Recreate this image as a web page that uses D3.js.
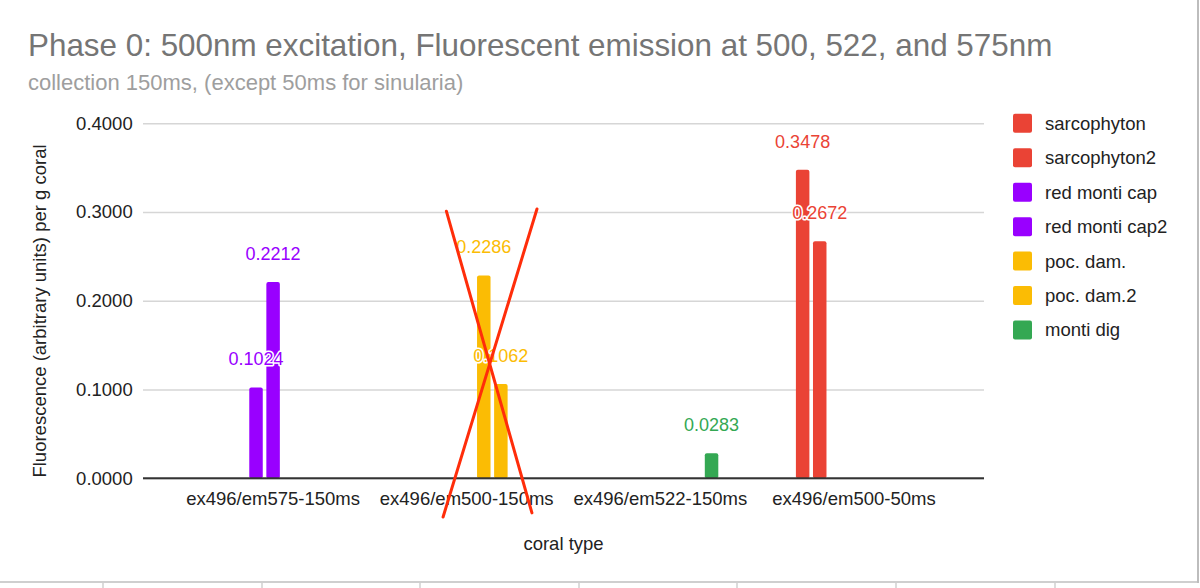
<!DOCTYPE html>
<html>
<head>
<meta charset="utf-8">
<script src="https://cdn.jsdelivr.net/npm/d3@7"></script>
<style>
  html, body { margin: 0; padding: 0; background: #fff; }
  svg { display: block; }
  text { font-family: "Liberation Sans", Arial, sans-serif; }
</style>
</head>
<body>
<svg id="chart" width="1200" height="588"></svg>
<script>
// ---- data ----
const categories = ["ex496/em575-150ms", "ex496/em500-150ms", "ex496/em522-150ms", "ex496/em500-50ms"];
const seriesNames = ["sarcophyton", "sarcophyton2", "red monti cap", "red monti cap2", "poc. dam.", "poc. dam.2", "monti dig"];
const seriesColors = ["#ea4335", "#ea4335", "#9900ff", "#9900ff", "#fbbc04", "#fbbc04", "#34a853"];
// values per series, one per category (null = no bar)
const sarcophyton   = [null, null, null, 0.3478];
const sarcophyton2  = [null, null, null, 0.2672];
const redMontiCap   = [0.1024, null, null, null];
const redMontiCap2  = [0.2212, null, null, null];
const pocDam        = [null, 0.2286, null, null];
const pocDam2       = [null, 0.1062, null, null];
const montiDig      = [null, null, 0.0283, null];
const seriesValues = [sarcophyton, sarcophyton2, redMontiCap, redMontiCap2, pocDam, pocDam2, montiDig];
const yTicks = [0, 0.1, 0.2, 0.3, 0.4];
const titleText = "Phase 0: 500nm excitation, Fluorescent emission at 500, 522, and 575nm";
const subtitleText = "collection 150ms, (except 50ms for sinularia)";
const xTitle = "coral type";
const yTitle = "Fluorescence (arbitrary units) per g coral";
// hand-drawn cross over the 2nd category: [category, offset in band steps, y value]
const crossLines = [
  [["ex496/em500-150ms", -0.105, 0.301], ["ex496/em500-150ms", 0.337, -0.039]],
  [["ex496/em500-150ms", 0.363, 0.3035], ["ex496/em500-150ms", -0.122, -0.0436]]
];

// ---- layout ----
const svg = d3.select("#chart");
const plotL = 143, plotR = 984, plotT = 123.3, plotB = 478.3;

const x0 = d3.scaleBand().domain(categories).range([plotL, plotR]).paddingInner(0).paddingOuter(0.172);
const groupW = 116;
const x1 = d3.scaleBand().domain(seriesNames).range([0, groupW]).paddingInner(0.21).paddingOuter(0);
const y = d3.scaleLinear().domain([0, 0.4]).range([plotB, plotT]);

// spreadsheet frame decoration
const frame = svg.append("g");
frame.append("line").attr("x1", 0).attr("x2", 1199).attr("y1", 582).attr("y2", 582)
  .attr("stroke", "#cfcfcf").attr("stroke-width", 2);
frame.append("line").attr("x1", 1198).attr("x2", 1198).attr("y1", 0).attr("y2", 583)
  .attr("stroke", "#bdbdbd").attr("stroke-width", 2);
[103, 262, 420, 579, 737, 896, 1055].forEach(xx => {
  frame.append("line").attr("x1", xx).attr("x2", xx).attr("y1", 583).attr("y2", 588)
    .attr("stroke", "#d0d0d0").attr("stroke-width", 1.5);
});

// title
svg.append("text").attr("x", 28).attr("y", 56).attr("font-size", 31.4).attr("fill", "#757575").text(titleText);
svg.append("text").attr("x", 28).attr("y", 89.5).attr("font-size", 22).attr("fill", "#9e9e9e").text(subtitleText);

// gridlines + y axis
const yAxis = d3.axisLeft(y).tickValues(yTicks).tickFormat(d3.format(".4f")).tickSize(-(plotR - plotL)).tickPadding(10);
const gy = svg.append("g").attr("transform", `translate(${plotL},0)`).call(yAxis);
gy.select(".domain").remove();
gy.selectAll(".tick line").attr("stroke", "#d6d6d6").attr("stroke-width", 1.5);
gy.selectAll(".tick text").attr("font-size", 18.5).attr("fill", "#222")
  .attr("font-family", "'Liberation Sans', Arial, sans-serif").attr("x", -10.3);

// bars
const barsG = svg.append("g");
seriesNames.forEach((s, si) => {
  categories.forEach((c, ci) => {
    const v = seriesValues[si][ci];
    if (v == null) return;
    const bx = x0(c) + x0.bandwidth() / 2 - groupW / 2 + x1(s);
    barsG.append("rect")
      .attr("x", bx).attr("y", y(v))
      .attr("width", x1.bandwidth()).attr("height", y(0) - y(v))
      .attr("rx", 2).attr("fill", seriesColors[si]);
  });
});

// x axis line
const xAxis = d3.axisBottom(x0).tickSize(0).tickPadding(14);
const gx = svg.append("g").attr("transform", `translate(0,${plotB})`).call(xAxis);
gx.select(".domain").attr("stroke", "#333").attr("stroke-width", 2)
  .attr("d", `M${plotL},0H${plotR}`);
gx.selectAll(".tick text").attr("font-size", 18.5).attr("fill", "#222")
  .attr("font-family", "'Liberation Sans', Arial, sans-serif");

// data labels
const labelsG = svg.append("g");
seriesNames.forEach((s, si) => {
  categories.forEach((c, ci) => {
    const v = seriesValues[si][ci];
    if (v == null) return;
    const cx = x0(c) + x0.bandwidth() / 2 - groupW / 2 + x1(s) + x1.bandwidth() / 2;
    labelsG.append("text")
      .attr("x", cx).attr("y", y(v) - 22)
      .attr("text-anchor", "middle")
      .attr("font-family", "Roboto, sans-serif").attr("font-size", 18)
      .attr("fill", seriesColors[si])
      .attr("stroke", "#fff").attr("stroke-width", 3).attr("paint-order", "stroke")
      .attr("stroke-linejoin", "round")
      .text(d3.format(".4f")(v));
  });
});

// axis titles
svg.append("text").attr("x", (plotL + plotR) / 2).attr("y", 550).attr("text-anchor", "middle")
  .attr("font-size", 18.5).attr("fill", "#222").text(xTitle);
svg.append("text").attr("transform", `translate(46,311) rotate(-90)`).attr("text-anchor", "middle")
  .attr("font-size", 18.5).attr("fill", "#222").text(yTitle);

// legend
const lg = svg.append("g");
seriesNames.forEach((s, i) => {
  const cy = 123.3 + i * 34.45;
  lg.append("rect").attr("x", 1013).attr("y", cy - 9.5).attr("width", 19).attr("height", 19)
    .attr("rx", 2).attr("fill", seriesColors[i]);
  lg.append("text").attr("x", 1045).attr("y", cy).attr("dy", "0.35em")
    .attr("font-size", 18.5).attr("fill", "#222").text(s);
});

// hand-drawn red cross annotation
const px = p => x0(p[0]) + x0.bandwidth() / 2 + p[1] * x0.step();
crossLines.forEach(([a, b]) => {
  svg.append("line")
    .attr("x1", px(a)).attr("y1", y(a[2]))
    .attr("x2", px(b)).attr("y2", y(b[2]))
    .attr("stroke", "#ff2d0a").attr("stroke-width", 3).attr("stroke-linecap", "round");
});
</script>
</body>
</html>
